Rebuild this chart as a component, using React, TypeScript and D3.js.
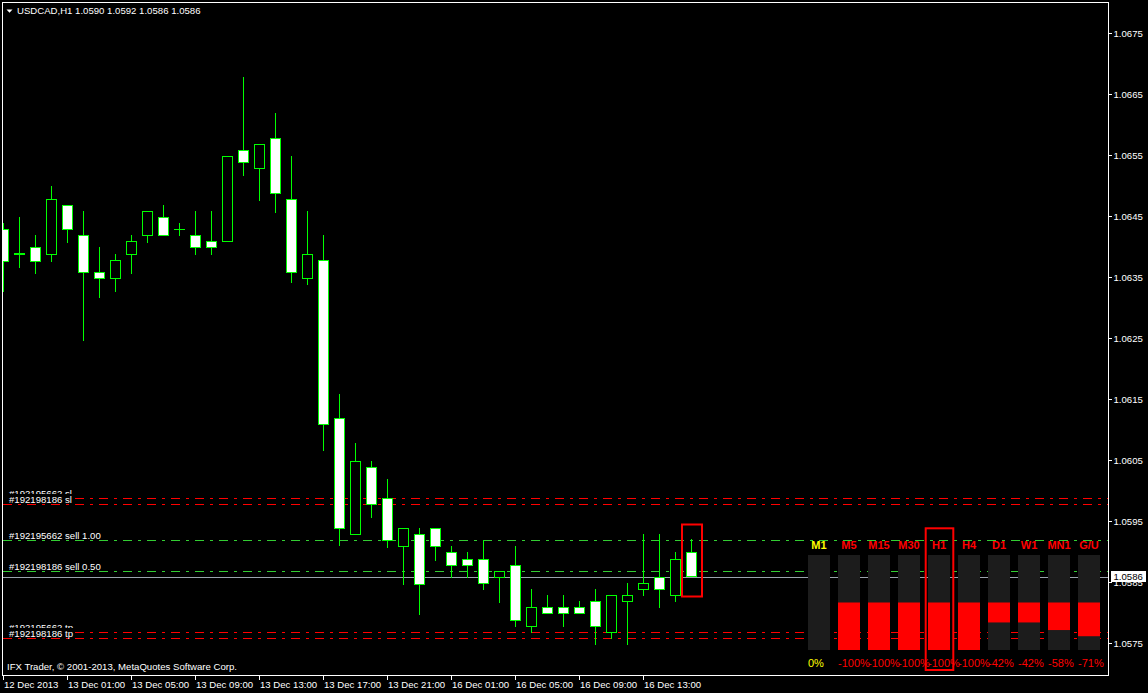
import React from 'react';
import * as d3 from 'd3';

// ---------- DATA ----------
const symbolTitle = 'USDCAD,H1  1.0590 1.0592 1.0586 1.0586';
const footerText = 'IFX Trader, \u00A9 2001-2013, MetaQuotes Software Corp.';

const opens = [
  1.06429, 1.06389, 1.06399, 1.06388, 1.06468, 1.06419, 1.06358, 1.06348, 1.06388, 1.06419,
  1.06448, 1.06429, 1.06419, 1.06409, 1.06409, 1.06558, 1.06529, 1.06578, 1.06478, 1.06348,
  1.06378, 1.06119, 1.05929, 1.06039, 1.05988, 1.05909, 1.05929, 1.05939, 1.05899, 1.05888,
  1.05888, 1.05858, 1.05878, 1.05778, 1.05809, 1.05809, 1.05809, 1.05819, 1.05768, 1.05819,
  1.05839, 1.05858, 1.05829, 1.0590,
];
const highs = [
  1.06439, 1.06448, 1.06419, 1.06499, 1.06468, 1.06458, 1.06399, 1.06388, 1.06419, 1.06458,
  1.06468, 1.06439, 1.06458, 1.06458, 1.06548, 1.06678, 1.06568, 1.06619, 1.06548, 1.06458,
  1.06419, 1.06158, 1.06078, 1.06048, 1.06019, 1.05939, 1.05939, 1.05939, 1.05909, 1.05899,
  1.05919, 1.05868, 1.05909, 1.05839, 1.05829, 1.05829, 1.05819, 1.05839, 1.05829, 1.05848,
  1.05929, 1.05929, 1.05899, 1.0592,
];
const lows = [
  1.06327, 1.06366, 1.06357, 1.06376, 1.06407, 1.06247, 1.06317, 1.06327, 1.06357, 1.06407,
  1.06419, 1.06419, 1.06388, 1.06388, 1.06409, 1.06517, 1.06476, 1.06457, 1.06342, 1.06339,
  1.06066, 1.05911, 1.05928, 1.05957, 1.05907, 1.05847, 1.05798, 1.05886, 1.05858, 1.05858,
  1.05839, 1.05817, 1.05778, 1.05768, 1.05799, 1.05778, 1.05799, 1.05748, 1.05758, 1.05748,
  1.05829, 1.05809, 1.05819, 1.0586,
];
const closes = [
  1.06376, 1.06388, 1.06376, 1.06478, 1.06429, 1.06358, 1.06348, 1.06378, 1.06409, 1.06458,
  1.06419, 1.06429, 1.06399, 1.06399, 1.06548, 1.06539, 1.06568, 1.06488, 1.06358, 1.06388,
  1.06109, 1.05939, 1.06048, 1.05978, 1.05919, 1.05939, 1.05847, 1.05909, 1.05878, 1.05878,
  1.05848, 1.05868, 1.05788, 1.05809, 1.05799, 1.05799, 1.05799, 1.05778, 1.05829, 1.05829,
  1.05848, 1.05839, 1.05888, 1.0586,
];

const timeTickIndex = [0, 4, 8, 12, 16, 20, 24, 28, 32, 36, 40];
const timeTickLabels = [
  '12 Dec 2013', '13 Dec 01:00', '13 Dec 05:00', '13 Dec 09:00', '13 Dec 13:00',
  '13 Dec 17:00', '13 Dec 21:00', '16 Dec 01:00', '16 Dec 05:00', '16 Dec 09:00', '16 Dec 13:00',
];

const priceTicks = [1.0675, 1.0665, 1.0655, 1.0645, 1.0635, 1.0625, 1.0615, 1.0605, 1.0595, 1.0585, 1.0575];
const bidPrice = 1.0586;

const orderLabels = [
  '#192195662 sl', '#192198186 sl', '#192195662 sell 1.00',
  '#192198186 sell 0.50', '#192195662 tp', '#192198186 tp',
];
const orderPrices = [1.05988, 1.05978, 1.05919, 1.05868, 1.05768, 1.05758];
const orderKinds = ['sl', 'sl', 'entry', 'entry', 'tp', 'tp'];

const panelLabels = ['M1', 'M5', 'M15', 'M30', 'H1', 'H4', 'D1', 'W1', 'MN1', 'G/U'];
const panelValues = [0, -100, -100, -100, -100, -100, -42, -42, -58, -71];
const panelHighlight = 'H1';

// ---------- STYLE ----------
const W = 1148;
const H = 693;
const FONT = "'Liberation Sans', Arial, sans-serif";
const LIME = '#00ff00';
const RED = '#ff0000';
const GREEN_LINE = '#32cd32';
const YELLOW = '#ffff00';

export default function App() {
  const plotLeft = 2;
  const plotRight = 1108;
  const plotTop = 2;
  const plotBottom = 675;

  const y = d3.scaleLinear().domain([1.0575, 1.0675]).range([643, 33]);
  const x = d3.scaleLinear().domain([0, 43]).range([3, 691]);
  const crisp = (v: number) => Math.round(v) + 0.5;

  // panel scales
  const panelX = d3.scaleLinear().domain([0, 1]).range([808, 838]);
  const colW = 22;
  const panelY = d3.scaleLinear().domain([-100, 100]).range([650, 555]);

  const dash = '9,6,3,6';

  const candles = opens.map((o, i) => {
    const c = closes[i];
    const cx = Math.round(x(i));
    const top = Math.round(y(Math.max(o, c)));
    const bot = Math.round(y(Math.min(o, c)));
    const bull = c > o;
    const hy = Math.round(y(highs[i]));
    const ly = Math.round(y(lows[i]));
    return (
      <g key={i}>
        <line x1={cx + 0.5} x2={cx + 0.5} y1={hy} y2={ly + 1} stroke={LIME} strokeWidth={1} />
        {bot - top > 0 ? (
          <rect x={cx - 4.5} y={top + 0.5} width={10} height={bot - top}
            fill={bull ? '#000' : '#fff'} stroke={LIME} strokeWidth={1} />
        ) : (
          <line x1={cx - 5} x2={cx + 6} y1={top + 0.5} y2={top + 0.5} stroke={LIME} strokeWidth={1} />
        )}
      </g>
    );
  });

  const last = opens.length - 1;
  const lastCx = Math.round(x(last));

  return (
    <svg width={W} height={H} style={{ position: 'fixed', left: 0, top: 0, background: '#000' }}
      fontFamily={FONT}>
      <rect x={0} y={0} width={W} height={H} fill="#000" />
      <defs>
        <clipPath id="plot">
          <rect x={plotLeft + 1} y={plotTop + 1} width={plotRight - plotLeft - 1} height={plotBottom - plotTop - 1} />
        </clipPath>
      </defs>

      <g clipPath="url(#plot)">
        {/* bid line */}
        <line x1={3} x2={plotRight} y1={crisp(y(bidPrice)) + 1} y2={crisp(y(bidPrice)) + 1} stroke="#9aa3ad" strokeWidth={1} />
        {/* order lines */}
        {orderPrices.map((p, i) => (
          <line key={'ol' + i} x1={3} x2={plotRight} y1={crisp(y(p))} y2={crisp(y(p))}
            stroke={orderKinds[i] === 'entry' ? GREEN_LINE : RED} strokeWidth={1} strokeDasharray={dash} />
        ))}
        {/* order labels */}
        {orderPrices.map((p, i) => {
          const base = Math.round(y(p)) - 1.5;
          return (
            <g key={'lab' + i}>
              <rect x={3} y={base - 8.5} width={orderLabels[i].length > 14 ? 94 : 71} height={9.5} fill="#000" />
              <text x={9} y={base} fill="#fff" fontSize={9.6}>{orderLabels[i]}</text>
            </g>
          );
        })}

        {candles}

        {/* highlight box on last candle */}
        <rect x={lastCx - 9} y={Math.round(y(highs[last])) - 14.5} width={20}
          height={Math.round(y(lows[last])) - Math.round(y(highs[last])) + 35}
          fill="none" stroke={RED} strokeWidth={2} />

        {/* indicator panel */}
        {panelLabels.map((lab, i) => {
          const px = panelX(i);
          const v = panelValues[i];
          const col = v === 0 ? YELLOW : RED;
          return (
            <g key={'pn' + i}>
              <rect x={px} y={panelY(100)} width={colW} height={panelY(-100) - panelY(100)} fill="#1c1c1c" />
              {v !== 0 && (
                <rect x={px} y={panelY(0)} width={colW} height={panelY(v) - panelY(0)} fill={RED} />
              )}
              <text x={px + colW / 2} y={548.5} textAnchor="middle" fill={col} fontSize={11}
                fontWeight="bold">{lab}</text>
              <text x={px} y={667} fill={col} fontSize={11}>{v + '%'}</text>
              {lab === panelHighlight && (
                <rect x={px - 2.3} y={528.3} width={27.6} height={141.7} fill="none" stroke={RED} strokeWidth={2} />
              )}
            </g>
          );
        })}

        {/* footer */}
        <text x={7} y={670} fill="#fff" fontSize={9.6}>{footerText}</text>
      </g>

      {/* title */}
      <path d="M6.5,9.5 L12.5,9.5 L9.5,12.8 Z" fill="#fff" />
      <text x={17} y={14.3} fill="#fff" fontSize={9.6}>{symbolTitle}</text>

      {/* frame */}
      <rect x={plotLeft + 0.5} y={plotTop + 0.5} width={plotRight - plotLeft} height={plotBottom - plotTop}
        fill="none" stroke="#fff" strokeWidth={1} />

      {/* price axis */}
      {priceTicks.map((p, i) => {
        const ty = Math.round(y(p));
        return (
          <g key={'pt' + i}>
            <line x1={plotRight + 1} x2={plotRight + 4} y1={ty + 0.5} y2={ty + 0.5} stroke="#fff" strokeWidth={1} />
            <text x={1113.5} y={ty + 3.8} fill="#fff" fontSize={9.6}>{d3.format('.4f')(p)}</text>
          </g>
        );
      })}
      {/* current price marker */}
      <rect x={1111} y={Math.round(y(bidPrice)) - 5} width={35} height={11} fill="#fff" />
      <text x={1113.5} y={Math.round(y(bidPrice)) + 4} fill="#000" fontSize={9.6}>{d3.format('.4f')(bidPrice)}</text>

      {/* time axis */}
      {timeTickIndex.map((idx, i) => {
        const tx = Math.round(x(idx));
        return (
          <g key={'tt' + i}>
            <line x1={tx + 0.5} x2={tx + 0.5} y1={plotBottom + 1} y2={plotBottom + 5} stroke="#fff" strokeWidth={1} />
            <text x={tx + 1} y={688} fill="#fff" fontSize={9.6}>{timeTickLabels[i]}</text>
          </g>
        );
      })}
    </svg>
  );
}
